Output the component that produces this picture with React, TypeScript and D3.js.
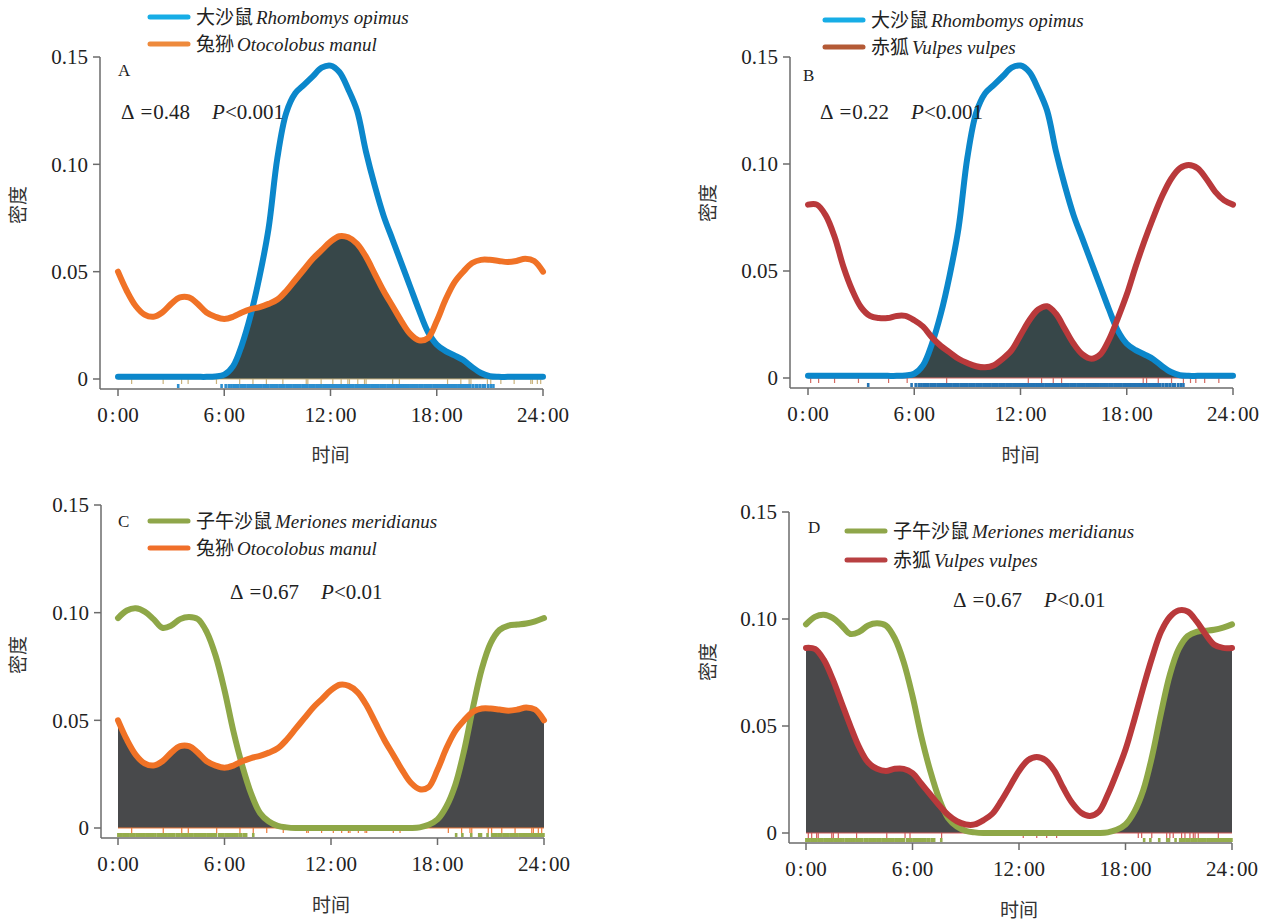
import * as d3 from 'd3';

// sample grid (hours) shared by every density curve
const HOURS = [0, 0.5, 1, 1.5, 2, 2.5, 3, 3.5, 4, 4.5, 5, 5.5, 6, 6.5, 7, 7.5, 8, 8.5, 9, 9.5, 10, 10.5, 11, 11.5, 12,
  12.5, 13, 13.5, 14, 14.5, 15, 15.5, 16, 16.5, 17, 17.5, 18, 18.5, 19, 19.5, 20, 20.5, 21, 21.5, 22, 22.5, 23, 23.5, 24];

// 大沙鼠 Rhombomys opimus
const RHOMBOMYS = [0.001, 0.001, 0.001, 0.001, 0.001, 0.001, 0.001, 0.001, 0.001, 0.001, 0.001, 0.0012, 0.002, 0.006,
  0.016, 0.03, 0.048, 0.07, 0.103, 0.124, 0.133, 0.137, 0.141, 0.145, 0.146, 0.143, 0.135, 0.125, 0.106, 0.09, 0.076,
  0.065, 0.054, 0.043, 0.032, 0.022, 0.016, 0.013, 0.011, 0.0088, 0.0055, 0.0028, 0.0013, 0.001, 0.001, 0.001, 0.001,
  0.001, 0.001];
// 兔狲 Otocolobus manul
const MANUL = [0.05, 0.041, 0.034, 0.03, 0.029, 0.031, 0.035, 0.038, 0.038, 0.035, 0.031, 0.029, 0.028, 0.029, 0.031,
  0.0325, 0.0335, 0.035, 0.037, 0.041, 0.046, 0.051, 0.056, 0.06, 0.064, 0.0665, 0.066, 0.063, 0.057, 0.049, 0.041,
  0.034, 0.027, 0.021, 0.018, 0.019, 0.027, 0.037, 0.045, 0.05, 0.054, 0.0555, 0.0555, 0.055, 0.0545, 0.055, 0.056,
  0.055, 0.05];
// 赤狐 Vulpes vulpes (panel B)
const FOX_B = [0.081, 0.081, 0.076, 0.066, 0.052, 0.041, 0.033, 0.029, 0.028, 0.028, 0.029, 0.029, 0.027, 0.024, 0.019,
  0.015, 0.012, 0.009, 0.007, 0.0055, 0.005, 0.006, 0.009, 0.013, 0.02, 0.027, 0.032, 0.0335, 0.03, 0.023, 0.016, 0.011,
  0.009, 0.011, 0.018, 0.028, 0.039, 0.052, 0.064, 0.075, 0.085, 0.093, 0.098, 0.0995, 0.098, 0.093, 0.087, 0.083,
  0.081];
// 子午沙鼠 Meriones meridianus
const MERIONES = [0.0975, 0.101, 0.102, 0.1005, 0.097, 0.093, 0.094, 0.097, 0.098, 0.097, 0.091, 0.08, 0.064, 0.045,
  0.029, 0.016, 0.007, 0.003, 0.001, 0.0003, 0, 0, 0, 0, 0, 0, 0, 0, 0, 0, 0, 0, 0, 0, 0.0003, 0.0015, 0.004, 0.01, 0.02,
  0.036, 0.056, 0.074, 0.086, 0.092, 0.094, 0.0945, 0.095, 0.096, 0.0975];
// 赤狐 Vulpes vulpes (panel D)
const FOX_D = [0.0865, 0.086, 0.081, 0.072, 0.061, 0.05, 0.04, 0.033, 0.03, 0.029, 0.03, 0.03, 0.028, 0.023, 0.018,
  0.013, 0.0085, 0.0055, 0.004, 0.004, 0.006, 0.009, 0.015, 0.022, 0.029, 0.034, 0.0355, 0.034, 0.029, 0.021, 0.014,
  0.0095, 0.008, 0.01, 0.018, 0.028, 0.039, 0.053, 0.068, 0.082, 0.094, 0.101, 0.104, 0.1035, 0.099, 0.093, 0.088,
  0.0865, 0.0865];

// detection times (rug)
const RUG_RHOMBOMYS = [3.4, 5.85, 6.08, 6.25, 6.4, 6.52, 6.6, 6.71, 6.8, 6.93, 7.0, 7.12, 7.2, 7.33, 7.41, 7.5, 7.62,
  7.7, 7.81, 7.9, 8.03, 8.1, 8.22, 8.3, 8.41, 8.5, 8.63, 8.72, 8.8, 8.91, 9.0, 9.12, 9.2, 9.33, 9.4, 9.52, 9.6, 9.71,
  9.8, 9.92, 10.0, 10.1, 10.22, 10.3, 10.42, 10.5, 10.61, 10.7, 10.82, 10.9, 11.01, 11.1, 11.22, 11.3, 11.41, 11.5,
  11.62, 11.7, 11.81, 11.9, 12.02, 12.1, 12.21, 12.3, 12.42, 12.5, 12.6, 12.71, 12.8, 12.92, 13.0, 13.1, 13.21, 13.3,
  13.42, 13.5, 13.62, 13.7, 13.8, 13.91, 14.0, 14.12, 14.2, 14.31, 14.4, 14.52, 14.6, 14.7, 14.82, 14.9, 15.01, 15.1,
  15.22, 15.3, 15.41, 15.5, 15.6, 15.72, 15.8, 15.92, 16.0, 16.1, 16.22, 16.3, 16.4, 16.51, 16.6, 16.72, 16.8, 16.9,
  17.02, 17.1, 17.2, 17.32, 17.4, 17.5, 17.61, 17.7, 17.82, 17.9, 18.0, 18.12, 18.2, 18.3, 18.42, 18.5, 18.6, 18.71,
  18.8, 18.92, 19.0, 19.1, 19.22, 19.3, 19.42, 19.5, 19.61, 19.7, 19.82, 19.9, 20.05, 20.2, 20.3, 20.45, 20.6, 20.72,
  20.9, 21.05, 21.2];
const RUG_MANUL = [0.77, 2.55, 3.59, 3.96, 5.56, 6.87, 7.62, 8.38, 9.31, 10.63, 10.72, 11.47, 12.13, 12.6, 12.98, 13.07,
  13.54, 13.92, 14.01, 15.51, 15.89, 18.61, 19.36, 19.83, 19.93, 20.86, 21.05, 21.62, 22.37, 23.31, 23.4, 23.68, 23.87];
const RUG_MERIONES = [0.02, 0.12, 0.2, 0.31, 0.4, 0.52, 0.6, 0.75, 0.85, 0.93, 1.05, 1.14, 1.22, 1.3, 1.41, 1.5, 1.62,
  1.71, 1.8, 1.92, 2.0, 2.11, 2.25, 2.33, 2.41, 2.55, 2.63, 2.74, 2.86, 2.95, 3.06, 3.15, 3.3, 3.38, 3.47, 3.6, 3.7,
  3.79, 3.9, 4.02, 4.1, 4.2, 4.33, 4.42, 4.5, 4.63, 4.75, 4.84, 4.93, 5.05, 5.13, 5.24, 5.35, 5.45, 5.52, 5.7, 5.81,
  5.9, 6.05, 6.13, 6.22, 6.3, 6.42, 6.55, 6.63, 6.72, 6.85, 6.95, 7.1, 7.22, 7.62, 19.05, 19.4, 19.9, 20.35, 20.45,
  20.82, 21.08, 21.15, 21.25, 21.33, 21.45, 21.52, 21.6, 21.72, 21.8, 21.9, 22.0, 22.12, 22.2, 22.3, 22.41, 22.5,
  22.62, 22.7, 22.8, 22.93, 23.0, 23.1, 23.2, 23.31, 23.4, 23.5, 23.62, 23.7, 23.8, 23.9, 23.97];
const RUG_FOX_B = [0.15, 0.6, 1.5, 2.85, 4.55, 5.6, 7.83, 12.44, 13.19, 13.85, 14.32, 18.93, 19.12, 19.78, 20.53, 21.2,
  21.6, 21.9, 22.4, 23.2];
const RUG_FOX_D = [0.13, 0.32, 0.6, 0.69, 1.45, 1.54, 1.82, 2.85, 4.55, 5.58, 5.86, 7.64, 12.24, 13.0, 13.56, 14.12,
  18.72, 18.91, 19.48, 20.32, 20.5, 20.69, 21.16, 21.35, 21.63, 21.82, 21.92, 22.1, 23.23];

const X_TICKS = [0, 6, 12, 18, 24];
const X_TICK_HOURS = ['0', '6', '12', '18', '24'];
const Y_TICKS = [0, 0.05, 0.1, 0.15];
const Y_TICK_LABELS = ['0', '0.05', '0.10', '0.15'];

const SERIF = "'Liberation Serif', 'Times New Roman', 'Noto Sans CJK SC', serif";
const CJK = "'Noto Sans CJK SC', sans-serif";
const AXIS = '#6b6b6b';

type Species = {
  cn: string;
  latin: string;
  values: number[];
  rug: number[];
  line: string;
  legend: string;
  rugColor: string;
};

type PanelProps = {
  axisX: number;
  x0: number;
  x1: number;
  yZero: number;
  yTop: number;
  axisY: number;
  letter: string;
  letterAt: [number, number];
  legendAt: [number, number];
  legendGap: number;
  statsAt: [number, number];
  delta: string;
  p: string;
  yLabelAt: [number, number];
  xLabelY: number;
  sp1: Species;
  sp2: Species;
  overlap: string;
};

function Panel(props: PanelProps) {
  const { axisX, x0, x1, yZero, yTop, axisY, sp1, sp2 } = props;
  const x = d3.scaleLinear().domain([0, 24]).range([x0, x1]);
  const y = d3.scaleLinear().domain([0, 0.15]).range([yZero, yTop]);
  const curve = d3.curveCatmullRom.alpha(0.5);

  const line = d3
    .line<number>()
    .x((_, i) => x(HOURS[i]))
    .y((d) => y(d))
    .curve(curve);
  const area = d3
    .area<number>()
    .x((_, i) => x(HOURS[i]))
    .y0(yZero)
    .y1((d) => y(d))
    .curve(curve);
  const minVals = sp1.values.map((v, i) => Math.min(v, sp2.values[i]));

  const xMid = (x0 + x1) / 2;

  return (
    <g fontFamily={SERIF} fill="#222">
      {/* overlap */}
      <path d={area(minVals) ?? ''} fill={props.overlap} />

      {/* rugs */}
      <line x1={x0} x2={x1} y1={yZero} y2={yZero} stroke={sp2.rugColor} strokeWidth={1} />
      {sp2.rug.map((t, i) => (
        <line key={'r2' + i} x1={x(t)} x2={x(t)} y1={yZero} y2={yZero + 5} stroke={sp2.rugColor} strokeWidth={1.2} />
      ))}
      {sp1.rug.map((t, i) => (
        <line key={'r1' + i} x1={x(t)} x2={x(t)} y1={yZero + 5} y2={axisY - 1} stroke={sp1.rugColor} strokeWidth={2.6} />
      ))}

      {/* curves */}
      <path d={line(sp1.values) ?? ''} fill="none" stroke={sp1.line} strokeWidth={6} strokeLinecap="round" strokeLinejoin="round" />
      <path d={line(sp2.values) ?? ''} fill="none" stroke={sp2.line} strokeWidth={6} strokeLinecap="round" strokeLinejoin="round" />

      {/* axes */}
      <line x1={axisX} x2={axisX} y1={yTop} y2={axisY} stroke={AXIS} strokeWidth={1.5} />
      <line x1={axisX} x2={x1} y1={axisY} y2={axisY} stroke={AXIS} strokeWidth={1.5} />
      {Y_TICKS.map((t, i) => (
        <g key={'yt' + i}>
          <line x1={axisX - 7} x2={axisX} y1={y(t)} y2={y(t)} stroke={AXIS} strokeWidth={1.5} />
          <text x={axisX - 12} y={y(t)} dy="0.35em" textAnchor="end" fontSize={21}>
            {Y_TICK_LABELS[i]}
          </text>
        </g>
      ))}
      {X_TICKS.map((t, i) => (
        <g key={'xt' + i}>
          <line x1={x(t)} x2={x(t)} y1={axisY} y2={axisY + 7} stroke={AXIS} strokeWidth={1.5} />
          <text x={x(t)} y={axisY + 33} textAnchor="middle" fontSize={21}>
            <tspan>{X_TICK_HOURS[i]}</tspan>
            <tspan dx={2}>:</tspan>
            <tspan dx={2}>00</tspan>
          </text>
        </g>
      ))}

      {/* axis titles */}
      <text
        transform={`translate(${props.yLabelAt[0]},${props.yLabelAt[1]}) rotate(-90)`}
        textAnchor="middle"
        dy="0.35em"
        fontSize={19}
        fontFamily={CJK}
        fill="#333"
      >
        密度
      </text>
      <text x={xMid} y={props.xLabelY} textAnchor="middle" dy="0.35em" fontSize={19} fontFamily={CJK} fill="#333">
        时间
      </text>

      {/* panel letter */}
      <text x={props.letterAt[0]} y={props.letterAt[1]} dy="0.35em" fontSize={17}>
        {props.letter}
      </text>

      {/* legend */}
      {[sp1, sp2].map((s, i) => {
        const [lx, ly] = props.legendAt;
        const yy = ly + i * props.legendGap;
        return (
          <g key={'lg' + i}>
            <line x1={lx} x2={lx + 38} y1={yy} y2={yy} stroke={s.legend} strokeWidth={5} strokeLinecap="round" />
            <text x={lx + 46} y={yy} dy="0.35em" fontSize={19}>
              <tspan fontFamily={CJK}>{s.cn}</tspan>
              <tspan dx={3} fontStyle="italic">{s.latin}</tspan>
            </text>
          </g>
        );
      })}

      {/* stats */}
      <text x={props.statsAt[0]} y={props.statsAt[1]} dy="0.35em" fontSize={21}>
        <tspan>{'Δ'}</tspan>
        <tspan dx={6}>{'='}</tspan>
        <tspan dx={1}>{props.delta}</tspan>
        <tspan dx={22} fontStyle="italic">P</tspan>
        <tspan>{props.p}</tspan>
      </text>
    </g>
  );
}

const blueA: Species = {
  cn: '大沙鼠',
  latin: 'Rhombomys opimus',
  values: RHOMBOMYS,
  rug: RUG_RHOMBOMYS,
  line: '#0b87cb',
  legend: '#17ade6',
  rugColor: '#2c8fd0',
};
const manulA: Species = {
  cn: '兔狲',
  latin: 'Otocolobus manul',
  values: MANUL,
  rug: RUG_MANUL,
  line: '#f07226',
  legend: '#ee8a3c',
  rugColor: '#c9b27c',
};
const foxB: Species = {
  cn: '赤狐',
  latin: 'Vulpes vulpes',
  values: FOX_B,
  rug: RUG_FOX_B,
  line: '#b9393b',
  legend: '#b45a36',
  rugColor: '#d46a62',
};
const blueB: Species = { ...blueA, rugColor: '#2474b4' };
const meriones: Species = {
  cn: '子午沙鼠',
  latin: 'Meriones meridianus',
  values: MERIONES,
  rug: RUG_MERIONES,
  line: '#8ea747',
  legend: '#8fa64a',
  rugColor: '#95ad4c',
};
const manulC: Species = { ...manulA, legend: '#f06f2a', rugColor: '#ec7a3a' };
const foxD: Species = {
  cn: '赤狐',
  latin: 'Vulpes vulpes',
  values: FOX_D,
  rug: RUG_FOX_D,
  line: '#b9393b',
  legend: '#b84042',
  rugColor: '#d25a5a',
};

export default function App() {
  return (
    <svg width={1269} height={922} style={{ position: 'absolute', left: 0, top: 0, background: '#fff' }}>
      <Panel
        axisX={100} x0={118} x1={543} yZero={379} yTop={57} axisY={389}
        letter="A" letterAt={[118, 70]} legendAt={[150, 17]} legendGap={27}
        statsAt={[121, 112]} delta="0.48" p="<0.001"
        yLabelAt={[18, 205]} xLabelY={455}
        sp1={blueA} sp2={manulA} overlap="#374749"
      />
      <Panel
        axisX={790} x0={808} x1={1233} yZero={378} yTop={57} axisY={388}
        letter="B" letterAt={[803, 75]} legendAt={[825, 20]} legendGap={27}
        statsAt={[820, 112]} delta="0.22" p="<0.001"
        yLabelAt={[708, 203]} xLabelY={455}
        sp1={blueB} sp2={foxB} overlap="#374749"
      />
      <Panel
        axisX={101} x0={118} x1={544} yZero={828} yTop={505} axisY={838}
        letter="C" letterAt={[118, 521]} legendAt={[150, 521]} legendGap={27}
        statsAt={[230, 592]} delta="0.67" p="<0.01"
        yLabelAt={[18, 655]} xLabelY={905}
        sp1={meriones} sp2={manulC} overlap="#48494b"
      />
      <Panel
        axisX={789} x0={806} x1={1232} yZero={833} yTop={512} axisY={843}
        letter="D" letterAt={[808, 527]} legendAt={[847, 531]} legendGap={29}
        statsAt={[953, 600]} delta="0.67" p="<0.01"
        yLabelAt={[708, 662]} xLabelY={910}
        sp1={meriones} sp2={foxD} overlap="#48494b"
      />
    </svg>
  );
}
